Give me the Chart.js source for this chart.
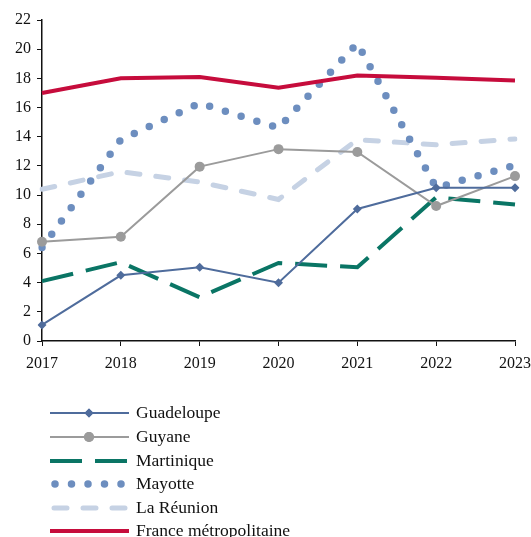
<!DOCTYPE html>
<html>
<head>
<meta charset="utf-8">
<script src="https://cdn.jsdelivr.net/npm/chart.js@4/dist/chart.umd.min.js"></script>
<style>
  html, body { margin: 0; padding: 0; background: #fff; }
  #wrap { width: 531px; height: 537px; }
</style>
</head>
<body>
<div id="wrap"><canvas id="chart" width="531" height="537"></canvas></div>
<script>
    "use strict";

    // Data
    var years = ["2017", "2018", "2019", "2020", "2021", "2022", "2023"];
    var guadeloupe = [1.1, 4.5, 5.05, 4.0, 9.05, 10.5, 10.5];
    var guyane = [6.8, 7.15, 11.95, 13.15, 12.95, 9.25, 11.3];
    var martinique = [4.1, 5.4, 3.0, 5.35, 5.05, 9.85, 9.35];
    var mayotte = [6.4, 13.8, 16.3, 14.6, 20.4, 10.5, 12.05];
    var reunion = [10.4, 11.6, 10.9, 9.7, 13.8, 13.45, 13.85];
    var france = [17.0, 18.0, 18.1, 17.35, 18.2, 18.05, 17.85];

    var family = "'Liberation Serif', 'DejaVu Serif', serif";
    var font = { family: family, size: 16 };

    var datasets = [
        { label: "Guadeloupe", data: guadeloupe, borderColor: "#4f6c9c", backgroundColor: "#4f6c9c",
          borderWidth: 2, pointStyle: "rectRot", pointRadius: 4.5, order: 1 },
        { label: "Guyane", data: guyane, borderColor: "#9b9b9b", backgroundColor: "#9b9b9b",
          borderWidth: 2, pointStyle: "circle", pointRadius: 5, order: 2 },
        { label: "Martinique", data: martinique, borderColor: "#0a7565", backgroundColor: "#0a7565",
          borderWidth: 4, borderDash: [32, 13], pointRadius: 0, order: 3 },
        { label: "Mayotte", data: mayotte, borderColor: "#6d8ebf", backgroundColor: "#6d8ebf",
          borderWidth: 7.5, borderDash: [0, 16.5], borderCapStyle: "round", pointRadius: 0, order: 5 },
        { label: "La Réunion", data: reunion, borderColor: "#c6d2e4", backgroundColor: "#c6d2e4",
          borderWidth: 5, borderDash: [13, 16], borderCapStyle: "round", pointRadius: 0, order: 6 },
        { label: "France métropolitaine", data: france, borderColor: "#c60c3c", backgroundColor: "#c60c3c",
          borderWidth: 4, pointRadius: 0, order: 4 }
    ];
    datasets.forEach(function (d) { d.tension = 0; d.fill = false; d.pointBorderWidth = 0; });

    // Legend drawn under the plot
    var legendRows = [413, 437, 461, 484, 508, 531];
    var bottomLegend = {
        id: "bottomLegend",
        afterDraw: function (chart) {
            var ctx = chart.ctx;
            chart.data.datasets.forEach(function (d, i) {
                var y = legendRows[i];
                ctx.save();
                ctx.strokeStyle = d.borderColor;
                ctx.lineWidth = d.borderWidth;
                ctx.lineCap = d.borderCapStyle || "butt";
                ctx.setLineDash(d.borderDash || []);
                var x0 = 50, x1 = 129;
                if (d.label === "Mayotte") { x0 = 55; x1 = 123; }
                if (d.label === "La Réunion") { x0 = 54; x1 = 126; }
                ctx.beginPath();
                ctx.moveTo(x0, y);
                ctx.lineTo(x1, y);
                ctx.stroke();
                ctx.setLineDash([]);
                if (d.pointRadius > 0) {
                    ctx.fillStyle = d.backgroundColor;
                    Chart.helpers.drawPoint(ctx, { pointStyle: d.pointStyle, radius: d.pointRadius, borderWidth: 0 }, 89, y);
                    ctx.fill();
                }
                ctx.fillStyle = "#111";
                ctx.font = "17.5px " + family;
                ctx.textBaseline = "middle";
                ctx.fillText(d.label, 136, y);
                ctx.restore();
            });
        }
    };

    var ctx = document.getElementById("chart").getContext("2d");
    var myChart = new Chart(ctx, {
        type: "line",
        data: { labels: years, datasets: datasets },
        plugins: [bottomLegend],
        options: {
            responsive: false,
            animation: false,
            layout: { padding: { top: 20, right: 16, left: 0, bottom: 0 } },
            plugins: { legend: { display: false }, tooltip: { enabled: false } },
            scales: {
                x: {
                    offset: false,
                    grid: { drawOnChartArea: false, color: "#111", tickLength: 5 },
                    border: { color: "#111", width: 1.5 },
                    ticks: { color: "#111", font: font, maxRotation: 0, padding: 8 },
                    afterFit: function (s) { s.height = 196; s.paddingRight = 0; s.paddingLeft = 0; }
                },
                y: {
                    min: 0, max: 22,
                    grid: { drawOnChartArea: false, color: "#111", tickLength: 5 },
                    border: { color: "#111", width: 1.5 },
                    ticks: { color: "#111", font: font, stepSize: 2, padding: 6 },
                    afterFit: function (s) { s.width = 42; }
                }
            }
        }
    });
</script>
</body>
</html>
